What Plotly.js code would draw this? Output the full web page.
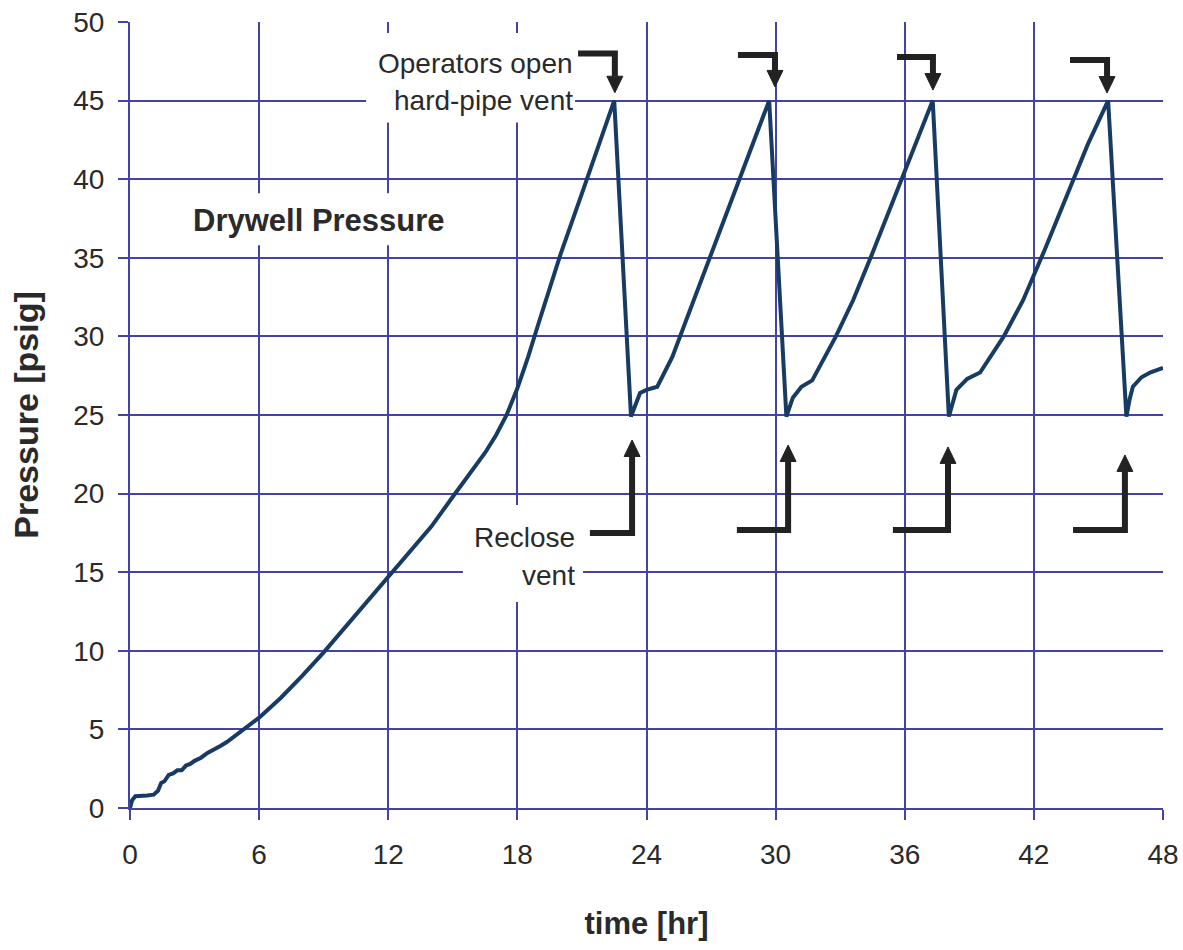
<!DOCTYPE html>
<html>
<head>
<meta charset="utf-8">
<script src="https://cdn.plot.ly/plotly-3.0.1.min.js"></script>
<style>html,body{margin:0;padding:0;background:#fff;}#chart{width:1183px;height:950px;}</style>
</head>
<body>
<div id="chart"></div>
<script>
// ---- data ----
var timeHr = [0, 0.1, 0.25, 0.5, 0.8, 1.1, 1.3, 1.45, 1.6, 1.8, 2.0, 2.2, 2.4, 2.6, 2.8, 3.0, 3.3, 3.6, 3.9, 4.2, 4.5, 4.8, 5.1, 5.4, 5.7, 6.0,
  7, 8, 9, 10, 11, 12, 13, 14, 15, 16, 16.5, 17, 17.5, 18, 18.5, 19, 19.5, 20, 21, 22, 22.5,
  23.28, 23.7, 24.0, 24.5, 25.2, 26.2, 27, 28, 29, 29.7,
  30.5, 30.8, 31.2, 31.7, 32.8, 33.6, 34.5, 35.5, 36.5, 37.3,
  38.05, 38.4, 38.9, 39.5, 40.6, 41.5, 42.5, 43.5, 44.5, 45.45,
  46.3, 46.45, 46.6, 47.0, 47.4, 48];
var pressurePsig = [0, 0.5, 0.75, 0.8, 0.8, 0.85, 1.1, 1.6, 1.7, 2.1, 2.2, 2.4, 2.4, 2.7, 2.8, 3.0, 3.2, 3.5, 3.7, 3.95, 4.2, 4.5, 4.8, 5.1, 5.4, 5.75,
  7.0, 8.4, 9.9, 11.5, 13.1, 14.7, 16.3, 17.9, 19.8, 21.6, 22.6, 23.7, 25.0, 26.7, 28.7, 30.9, 33.1, 35.2, 39.1, 43.0, 45.0,
  24.9, 26.4, 26.6, 26.8, 28.7, 32.3, 35.2, 38.8, 42.4, 45.0,
  24.9, 26.1, 26.8, 27.2, 30.0, 32.3, 35.3, 38.8, 42.2, 45.0,
  24.9, 26.6, 27.3, 27.7, 30.0, 32.3, 35.5, 38.8, 42.2, 45.0,
  24.9, 26.0, 26.8, 27.4, 27.7, 28.0];
var xTicks = [0, 6, 12, 18, 24, 30, 36, 42, 48];
var yTicks = [0, 5, 10, 15, 20, 25, 30, 35, 40, 45, 50];

// vent events: open at peaks, reclose at minima
var openBarX0 = [20.82, 28.25, 35.64, 43.68];
var openX = [22.53, 29.97, 37.31, 45.40];
var openBarY = [48.0, 47.9, 47.77, 47.58];
var openTip = [45.5, 45.87, 45.67, 45.48];
var closeBarX0 = [21.37, 28.2, 35.45, 43.82];
var closeX = [23.33, 30.58, 38.01, 46.23];
var closeBarY = [17.5, 17.68, 17.68, 17.68];
var closeTip = [23.41, 23.09, 22.97, 22.46];

// ---- build ----
var FONT = 'Liberation Sans, Arial, sans-serif';
var GRID = '#4343a6';
var INK = '#222222';
var TXT = '#2a2a2a';
var shapes = [];
function rect(x0, x1, y0, y1) {
  shapes.push({type: 'rect', xref: 'x', yref: 'y', x0: x0, x1: x1, y0: y0, y1: y1,
    fillcolor: '#ffffff', line: {width: 0}, layer: 'between'});
}
rect(10.97, 20.68, 43.6, 49.3);
rect(15.47, 21.05, 13.1, 19.27);
rect(2.56, 14.87, 35.8, 39.1);
var headW = 0.37, headH = 1.05;
for (var i = 0; i < openX.length; i++) {
  shapes.push({type: 'path', xref: 'x', yref: 'y',
    path: 'M' + openBarX0[i] + ',' + openBarY[i] + ' L' + openX[i] + ',' + openBarY[i] + ' L' + openX[i] + ',' + (openTip[i] + headH),
    line: {color: INK, width: 6}});
  shapes.push({type: 'path', xref: 'x', yref: 'y',
    path: 'M' + (openX[i] - headW) + ',' + (openTip[i] + headH) + ' L' + (openX[i] + headW) + ',' + (openTip[i] + headH) + ' L' + openX[i] + ',' + openTip[i] + ' Z',
    fillcolor: INK, line: {color: INK, width: 1}});
}
for (var j = 0; j < closeX.length; j++) {
  shapes.push({type: 'path', xref: 'x', yref: 'y',
    path: 'M' + closeBarX0[j] + ',' + closeBarY[j] + ' L' + closeX[j] + ',' + closeBarY[j] + ' L' + closeX[j] + ',' + (closeTip[j] - headH),
    line: {color: INK, width: 6}});
  shapes.push({type: 'path', xref: 'x', yref: 'y',
    path: 'M' + (closeX[j] - headW) + ',' + (closeTip[j] - headH) + ' L' + (closeX[j] + headW) + ',' + (closeTip[j] - headH) + ' L' + closeX[j] + ',' + closeTip[j] + ' Z',
    fillcolor: INK, line: {color: INK, width: 1}});
}

function note(text, x, y, xanchor, size, bold) {
  return {text: text, x: x, y: y, xref: 'x', yref: 'y', showarrow: false,
    xanchor: xanchor, yanchor: 'middle',
    font: {family: FONT, size: size, color: TXT, weight: bold ? 'bold' : 'normal'}};
}
var annotations = [
  note('Operators open', 20.7, 47.38, 'right', 28, false),
  note('hard-pipe vent', 20.7, 45.0, 'right', 28, false),
  note('Reclose', 20.75, 17.2, 'right', 28, false),
  note('vent', 20.75, 14.8, 'right', 28, false),
  note('Drywell Pressure', 8.8, 37.4, 'center', 31, true)
];

var trace = {x: timeHr, y: pressurePsig, type: 'scatter', mode: 'lines',
  line: {color: '#173b63', width: 4}, hoverinfo: 'skip'};

var axisCommon = {
  showgrid: true, gridcolor: GRID, gridwidth: 2,
  showline: true, linecolor: GRID, linewidth: 2,
  ticks: 'outside', ticklen: 10, tickcolor: GRID, tickwidth: 2,
  zeroline: false, mirror: false, fixedrange: true,
  tickfont: {family: FONT, size: 28, color: TXT}
};
var layout = {
  width: 1183, height: 950,
  margin: {l: 130, r: 20, t: 22, b: 142},
  paper_bgcolor: '#ffffff', plot_bgcolor: '#ffffff',
  showlegend: false,
  xaxis: Object.assign({}, axisCommon, {range: [0, 48], tickvals: xTicks, ticktext: xTicks.map(String),
    ticklabelstandoff: 10,
    title: {text: 'time [hr]', standoff: 44, font: {family: FONT, size: 31, color: TXT, weight: 'bold'}}}),
  yaxis: Object.assign({}, axisCommon, {range: [0, 50], tickvals: yTicks, ticktext: yTicks.map(String),
    ticklabelstandoff: 8,
    title: {text: 'Pressure [psig]', standoff: 24, font: {family: FONT, size: 34, color: TXT, weight: 'bold'}}}),
  shapes: shapes,
  annotations: annotations
};
Plotly.newPlot('chart', [trace], layout, {staticPlot: true, displayModeBar: false});
</script>
</body>
</html>
